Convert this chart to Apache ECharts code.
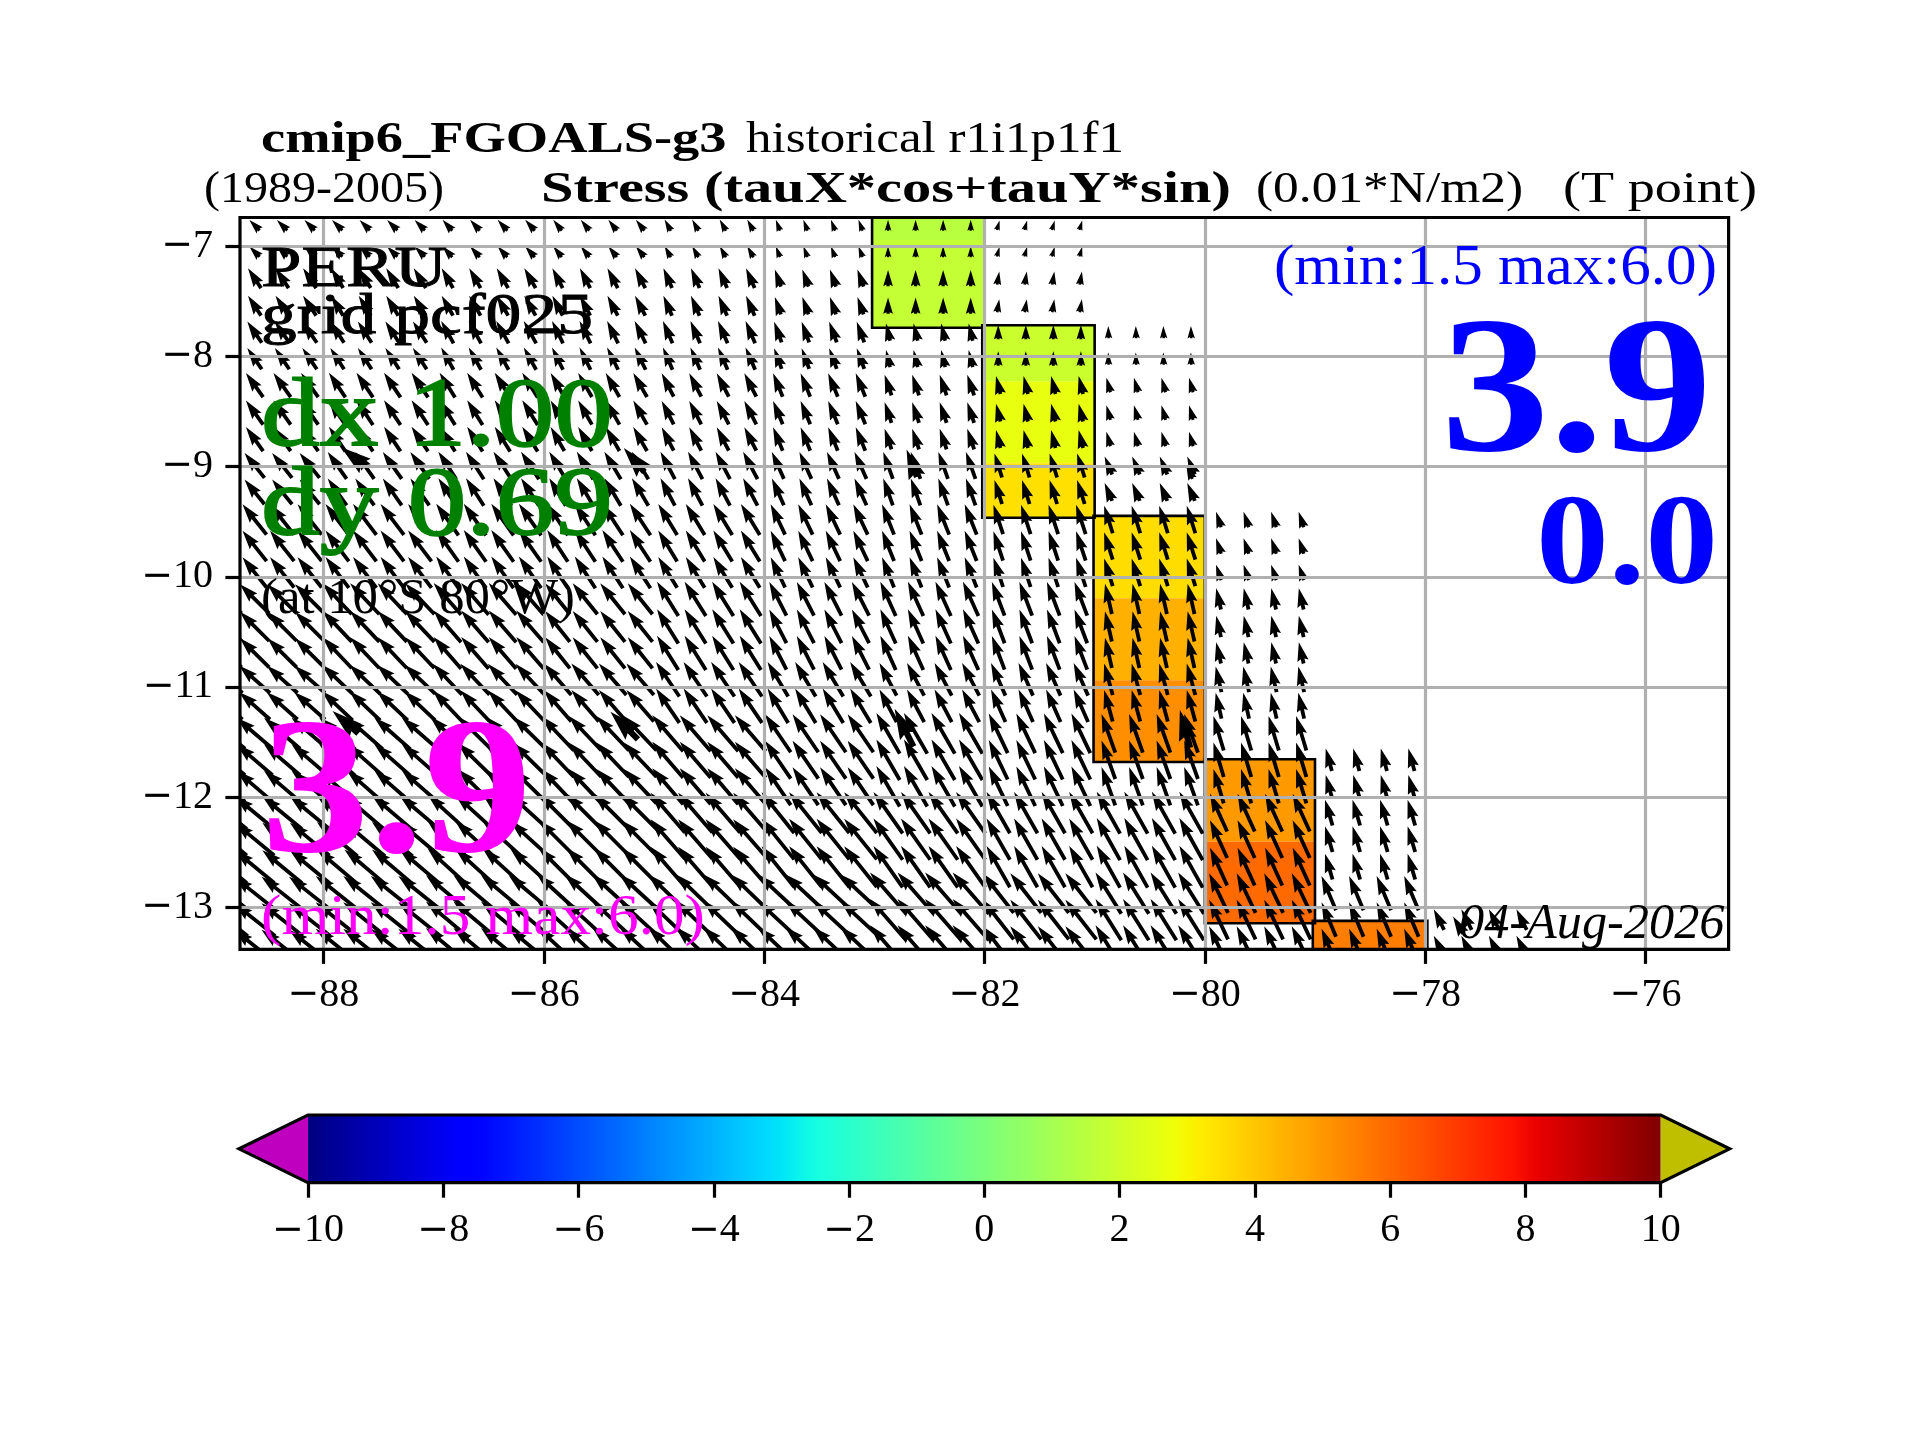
<!DOCTYPE html>
<html><head><meta charset="utf-8">
<style>html,body{margin:0;padding:0;background:#fff}#c{width:1920px;height:1440px}</style>
<script src="https://cdn.jsdelivr.net/npm/echarts@6/dist/echarts.min.js"></script>
</head><body><div id="c"></div>
<script>
// ---------- axes ----------
const xTicks = [-88,-86,-84,-82,-80,-78,-76];
const yTicks = [-13,-12,-11,-10,-9,-8,-7];
const cbTicks = [-10,-8,-6,-4,-2,0,2,4,6,8,10];
const xRange = [-88.757,-75.246];
const yRange = [-13.38,-6.74];

// ---------- shaded cells (value on the -10..10 colour scale) ----------
const cellWest  = [-83.02,-83.02,-82.02,-82.02,-82.02,-81.01,-81.01,-81.01,-80,-80,-79.02];
const cellEast  = [-82,-82,-81,-81,-81,-80,-80,-80,-79,-79,-77.98];
const cellNorth = [-6.6,-6.945,-7.717,-8.225,-8.969,-9.447,-10.194,-10.938,-11.655,-12.405,-13.122];
const cellSouth = [-6.945,-7.741,-8.225,-8.969,-9.465,-10.194,-10.938,-11.68,-12.405,-13.143,-13.5];
const cellValue = [1.46,1.74,1.9,2.64,3.46,3.52,4.47,5.2,4.95,5.95,5.55];
// black outlines of the land-mask steps
const boxWest  = [-83.02,-82.02,-81.01,-80,-79.02];
const boxEast  = [-82,-81,-80,-79,-77.98];
const boxNorth = [-6.6,-7.717,-9.447,-11.655,-13.122];
const boxSouth = [-7.741,-9.465,-11.68,-13.143,-13.6];

// ---------- stress vectors: coarse model cells (1 deg columns), 0.01*N/m2 ----------
const tauColWest = [-89,-88,-87,-86,-85,-84,-83,-82,-81,-80,-79,-78];
const tauSubLon  = [0.125,0.375,0.625,0.875];
const tauX0  = [-1.2,-1.2,-1.12,-1.0,-0.72,-0.48,0,0.32];
const tauY0  = [1.2,1.2,1.28,1.28,1.32,1.28,1.28,1.12];
const tauX1  = [-1.52,-1.4,-1.32,-1.2,-1.0,-0.72,0,0.24];
const tauY1  = [2.32,2.32,2.32,2.32,2.32,2.0,1.88,1.52];
const tauX2  = [-1.68,-1.6,-1.44,-1.28,-1.12,-0.88,-0.48,0,-0.04];
const tauY2  = [2.48,2.48,2.6,2.6,2.6,2.4,2.0,1.68,1.44];
const tauX3  = [-2,-1.92,-1.8,-1.6,-1.4,-1.12,-0.8,-0.52,-0.48];
const tauY3  = [2.8,2.88,2.88,2.8,2.72,2.72,2.4,2.08,1.68];
const tauX4  = [-2.32,-2.2,-2.08,-1.92,-1.68,-1.4,-1.12,-0.88,-0.88];
const tauY4  = [2.88,3.12,3.2,3.2,3.2,3.12,3.12,2.8,2.08];
const tauX5  = [-2.8,-2.72,-2.6,-2.4,-2.2,-1.68,-1.4,-1.12,-1.0,-0.6];
const tauY5  = [3.52,3.6,3.68,3.68,3.6,3.52,3.52,3.4,3.2,1.8];
const tauX6  = [-3.4,-3.4,-3.2,-2.88,-2.48,-2,-1.8,-1.48,-0.8,-0.56];
const tauY6  = [3.4,3.6,3.68,3.6,4,3.92,4,3.92,3.52,2.48];
const tauX7  = [-3.6,-3.6,-3.4,-3.2,-2.72,-2.4,-2,-1.68,-1,-0.68];
const tauY7  = [3.2,3.4,3.6,3.68,4,4,3.8,3.8,3.68,3];
const tauX8  = [-4.2,-4.2,-4,-3.8,-3.6,-3,-2.72,-2.2,-1.6,-1.2,-0.72];
const tauY8  = [3.6,3.68,3.92,4,4.2,4.4,4.72,4.6,4.48,4,2.6];
const tauX9  = [-4.6,-4.72,-4.6,-4.4,-4,-3.8,-3.4,-2.72,-2.72,-2,-0.88];
const tauY9  = [3.8,4,4.2,4.4,4.6,4.72,4.8,4.8,4.88,4.4,3];
const tauX10 = [-4.8,-5,-5,-4.8,-4.6,-4.72,-4.2,-3.6,-3,-2.2,-1.68,-1.2];
const tauY10 = [3.8,4,4.2,4.4,4.4,4.4,4.8,4.6,4.8,4.6,4,2.4];
const tauXRows = [tauX0,tauX1,tauX2,tauX3,tauX4,tauX5,tauX6,tauX7,tauX8,tauX9,tauX10];
const tauYRows = [tauY0,tauY1,tauY2,tauY3,tauY4,tauY5,tauY6,tauY7,tauY8,tauY9,tauY10];
// drawn rows: latitude, which coarse row they sample, last ocean column
const arrowLat = [-6.81,-7.05,-7.29,-7.54,-7.78,-8.02,-8.26,-8.51,-8.75,-8.99,-9.23,-9.48,-9.72,-9.96,
  -10.20,-10.45,-10.69,-10.93,-11.17,-11.42,-11.66,-11.90,-12.14,-12.38,-12.63,-12.87,-13.11,-13.35];
const arrowRowGroup = [0,0,1,1,2,2,3,3,3,4,4,5,5,5,6,6,6,7,7,8,8,8,9,9,9,10,10,10];
const arrowRowLast  = [7,7,7,7,8,8,8,8,8,8,8,9,9,9,9,9,9,9,9,9,10,10,10,10,10,10,11,11];
// sparse heavy overlay arrows
const heavyLon = [-87.73,-85.18,-82.66,-87.8,-85.27,-82.73,-80.18,-80.14,-77.7];
const heavyLat = [-8.91,-8.94,-8.97,-11.32,-11.35,-11.37,-11.38,-9.05,-13.16];
const heavyX   = [-2.8,-2.4,-1.2,-3.0,-3.2,-2.2,-1.2,-0.72,-1.2];
const heavyY   = [2.2,2.8,3.2,2.6,3.2,4.4,4.4,1.6,2.0];

// ---------- helpers ----------
const jetR=[[0,0],[.35,0],[.66,1],[.89,1],[1,.5]];
const jetG=[[0,0],[.125,0],[.375,1],[.64,1],[.91,0],[1,0]];
const jetB=[[0,.5],[.11,1],[.34,1],[.65,0],[1,0]];
function seg(tab,t){for(let i=1;i<tab.length;i++){if(t<=tab[i][0]){const a=tab[i-1],b=tab[i];return a[1]+(b[1]-a[1])*(t-a[0])/(b[0]-a[0]);}}return tab[tab.length-1][1];}
function jet(t){return 'rgb('+[jetR,jetG,jetB].map(k=>Math.round(255*seg(k,t))).join(',')+')';}
function scaleColor(v){return jet((v+10)/20);}

const pxPerUnit = 8.6, shaftW = 3.8;
function arrowPoly(cx,cy,u,v,k){
  const L=Math.hypot(u,v)*pxPerUnit, w=shaftW*k, hl=5*w, ha=4.5*w, hw=3*w;
  const s=L<hl?L/hl:1, LL=L<hl?hl:L;
  const pts=[[0,-w/2],[LL-ha,-w/2],[LL-hl,-hw/2],[LL,0],[LL-hl,hw/2],[LL-ha,w/2],[0,w/2]];
  const a=Math.atan2(-v,u), c=Math.cos(a), d=Math.sin(a);
  return pts.map(p=>{const x=(p[0]-LL/2)*s,y=p[1]*s;return [cx+x*c-y*d,cy+x*d+y*c];});
}
function arrowItem(params,api){
  const p=api.coord([api.value(0),api.value(1)]);
  return {type:'polygon',shape:{points:arrowPoly(p[0],p[1],api.value(2),api.value(3),api.value(4))},style:{fill:'#000'}};
}
const arrowData=[];
arrowLat.forEach((lat,k)=>{
  const r=arrowRowGroup[k];
  for(let c=0;c<=arrowRowLast[k];c++){
    tauSubLon.forEach(o=>arrowData.push([tauColWest[c]+o,lat,tauXRows[r][c],tauYRows[r][c],1]));
  }
});
const heavyData=heavyLon.map((x,i)=>[x,heavyLat[i],heavyX[i],heavyY[i],1.6]);
const cellData=cellValue.map((v,i)=>[cellWest[i],cellEast[i],cellNorth[i],cellSouth[i],v]);
const boxData=boxWest.map((v,i)=>[v,boxEast[i],boxNorth[i],boxSouth[i]]);

// ---------- fitted text ----------
const mc=document.createElement('canvas').getContext('2d');
function txt(s,x0,x1,base,size,opt){
  opt=opt||{};
  const font=(opt.italic?'italic ':'')+(opt.bold?'bold ':'')+size+'px "Liberation Serif"';
  mc.font=font; mc.textBaseline='middle';
  const m=mc.measureText(s), h=mc.measureText('H');
  const style={text:s,x:0,y:0,font:font,fill:opt.color||'#000',textAlign:'left',textVerticalAlign:'middle'};
  if(opt.heavy){style.stroke=opt.color||'#000';style.lineWidth=opt.heavy;}
  return {type:'text',x:x0,y:base-h.actualBoundingBoxDescent,scaleX:(x1-x0)/m.width,z:100,silent:true,style:style};
}
const texts=[
 txt('cmip6_FGOALS-g3',261,726.5,152,44,{bold:true}),
 txt('historical r1i1p1f1',746,1124,152,44),
 txt('(1989-2005)',204,444,202,44),
 txt('Stress (tauX*cos+tauY*sin)',541,1231,202,44,{bold:true}),
 txt('(0.01*N/m2)',1256,1523,202,44),
 txt('(T point)',1563,1757,202,44),
 txt('PERU',261,447,286,58,{heavy:0.9}),
 txt('grid pcf025',261,593,333,58,{heavy:0.9}),
 txt('dx 1.00',261,613,445,98,{color:'#008000',heavy:1.8}),
 txt('dy 0.69',261,613,533.5,98,{color:'#008000',heavy:1.8}),
 txt('(at 10\u00B0S 80\u00B0W)',261,575,613,50),
 txt('3.9',261,532,850.5,195,{bold:true,color:'#ff00ff'}),
 txt('(min:1.5 max:6.0)',261,705,933.7,58,{color:'#ff00ff'}),
 txt('(min:1.5 max:6.0)',1274,1717,284,58,{color:'#0000ff'}),
 txt('3.9',1441,1712,450,195,{bold:true,color:'#0000ff'}),
 txt('0.0',1536,1718,583,129,{bold:true,color:'#0000ff'}),
 txt('04-Aug-2026',1459,1724.5,938,50,{italic:true}),
];

// tick labels: a wider minus sign, as in the reference's typeface
const tickText=v=>v<0?'{m|\u2212}{d|'+Math.abs(v)+'}':'{d|'+v+'}';
const labelFont={fontFamily:'"Liberation Serif"',fontSize:40,color:'#000',
  rich:{m:{fontFamily:'"DejaVu Sans"',fontSize:38,color:'#000'},d:{fontFamily:'"Liberation Serif"',fontSize:40,color:'#000'}}};
const chart=echarts.init(document.getElementById('c'),null,{renderer:'canvas'});
chart.setOption({
 animation:false,backgroundColor:'#fff',
 grid:[
  {left:240,top:217.5,width:1488.6,height:731.8,show:true,borderColor:'#000',borderWidth:3.2,backgroundColor:'transparent',z:6},
  {left:308,top:1115,width:1352.7,height:67.7}
 ],
 xAxis:[
  {type:'value',gridIndex:0,min:xRange[0],max:xRange[1],z:5,
   axisLine:{show:false},
   axisTick:{show:true,length:14.6,lineStyle:{color:'#000',width:3.2},customValues:xTicks},
   axisLabel:{...labelFont,margin:26,customValues:xTicks,formatter:tickText},
   splitLine:{show:true,lineStyle:{color:'#b0b0b0',width:3.2}}},
  {type:'value',gridIndex:1,min:-10,max:10,z:5,
   axisLine:{show:false},
   axisTick:{show:true,length:15,lineStyle:{color:'#000',width:3.2},customValues:cbTicks},
   axisLabel:{...labelFont,margin:28,customValues:cbTicks,formatter:tickText},
   splitLine:{show:false}}
 ],
 yAxis:[
  {type:'value',gridIndex:0,min:yRange[0],max:yRange[1],z:5,
   axisLine:{show:false},
   axisTick:{show:true,length:14.6,lineStyle:{color:'#000',width:3.2},customValues:yTicks},
   axisLabel:{...labelFont,margin:27,customValues:yTicks,formatter:tickText},
   splitLine:{show:true,lineStyle:{color:'#b0b0b0',width:3.2}}},
  {type:'value',gridIndex:1,min:0,max:1,show:false}
 ],
 graphic:texts,
 series:[
  {type:'custom',name:'cells',xAxisIndex:0,yAxisIndex:0,clip:true,z:1,silent:true,
   encode:{x:[0,1],y:[2,3]},data:cellData,
   renderItem(p,api){
     const a=api.coord([api.value(0),api.value(2)]),b=api.coord([api.value(1),api.value(3)]);
     return {type:'rect',shape:{x:a[0],y:a[1],width:b[0]-a[0],height:b[1]-a[1]},style:{fill:scaleColor(api.value(4))}};
   }},
  {type:'custom',name:'boxes',xAxisIndex:0,yAxisIndex:0,clip:true,z:2,silent:true,
   encode:{x:[0,1],y:[2,3]},data:boxData,
   renderItem(p,api){
     const a=api.coord([api.value(0),api.value(2)]),b=api.coord([api.value(1),api.value(3)]);
     return {type:'rect',shape:{x:a[0],y:a[1],width:b[0]-a[0],height:b[1]-a[1]},style:{fill:'none',stroke:'#000',lineWidth:2.6}};
   }},
  {type:'custom',name:'stress',xAxisIndex:0,yAxisIndex:0,clip:true,z:3,silent:true,
   encode:{x:0,y:1},data:arrowData,renderItem:arrowItem},
  {type:'custom',name:'stressHeavy',xAxisIndex:0,yAxisIndex:0,clip:true,z:3,silent:true,
   encode:{x:0,y:1},data:heavyData,renderItem:arrowItem},
  {type:'custom',name:'colorbar',xAxisIndex:1,yAxisIndex:1,clip:false,z:3,silent:true,
   encode:{x:[0,1]},data:[[-10,10,1.02]],
   renderItem(p,api){
     const lo=api.value(0),hi=api.value(1),ext=api.value(2);
     const a=api.coord([lo,1]),b=api.coord([hi,0]),m=(a[1]+b[1])/2;
     const tl=api.coord([lo-ext,0])[0],tr=api.coord([hi+ext,0])[0];
     const stops=[];for(let i=0;i<=100;i++)stops.push({offset:i/100,color:jet(i/100)});
     return {type:'group',children:[
       {type:'rect',shape:{x:a[0],y:a[1],width:b[0]-a[0],height:b[1]-a[1]},
        style:{fill:new echarts.graphic.LinearGradient(0,0,1,0,stops)}},
       {type:'polygon',shape:{points:[[a[0],a[1]],[tl,m],[a[0],b[1]]]},style:{fill:'#bf00bf'}},
       {type:'polygon',shape:{points:[[b[0],a[1]],[tr,m],[b[0],b[1]]]},style:{fill:'#bfbf00'}},
       {type:'polygon',shape:{points:[[a[0],a[1]],[b[0],a[1]],[tr,m],[b[0],b[1]],[a[0],b[1]],[tl,m]]},
        style:{fill:'none',stroke:'#000',lineWidth:3.2}}
     ]};
   }}
 ]
});
</script></body></html>
